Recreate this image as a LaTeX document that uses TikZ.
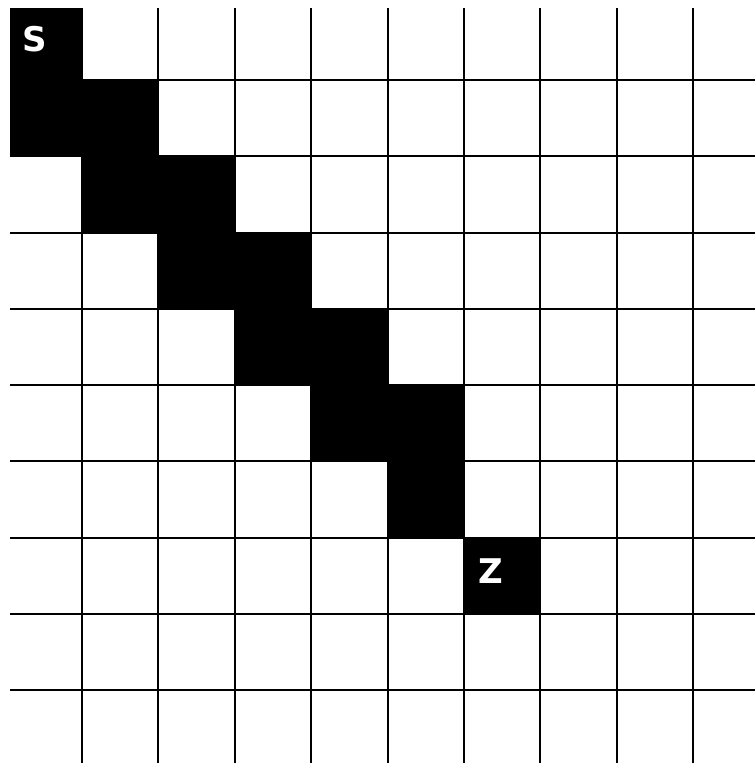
\documentclass[tikz,border=0pt]{standalone}
\usepackage{fontspec}
\setsansfont{DejaVu Sans}
\tikzset{
  cellfill/.style={fill=black},
  gridline/.style={line width=2pt, draw=black},
  marklabel/.style={text=white, font=\sffamily\bfseries\fontsize{34}{34}\selectfont, inner sep=0pt, anchor=center}
}
\begin{document}
\begin{tikzpicture}[x=1pt,y=-1pt]
\useasboundingbox (0,0) rectangle (755,763);
% grid lines
\foreach \x in {82,158.4,234.8,311.2,387.6,464,540.4,616.8,693.2}
  \draw[gridline] (\x,8) -- (\x,763);
\foreach \y in {80,156.25,232.5,308.75,385,461.25,537.5,613.75,690}
  \draw[gridline] (10,\y) -- (755,\y);
% black path cells
\fill[cellfill] (10,8) rectangle (82,80);
\fill[cellfill] (10,80) rectangle (158.4,156.25);
\fill[cellfill] (82,156.25) rectangle (234.8,232.5);
\fill[cellfill] (158.4,232.5) rectangle (311.2,308.75);
\fill[cellfill] (234.8,308.75) rectangle (387.6,385);
\fill[cellfill] (311.2,385) rectangle (464,461.25);
\fill[cellfill] (387.6,461.25) rectangle (464,537.5);
\fill[cellfill] (464,537.5) rectangle (540.4,613.75);
% labels
\node[marklabel] (s) at (35,39) {S};
\node[marklabel] (z) at (491,571) {Z};
\end{tikzpicture}
\end{document}
